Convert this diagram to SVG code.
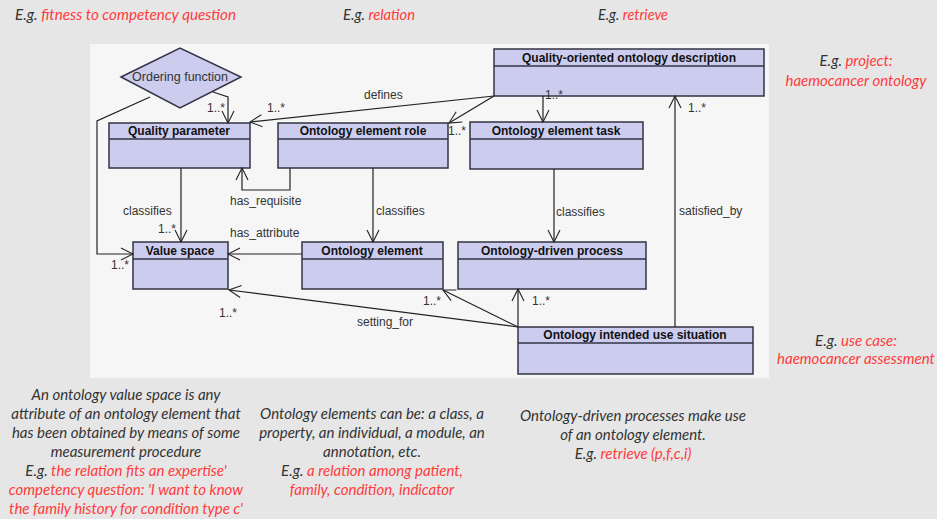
<svg xmlns="http://www.w3.org/2000/svg" width="937" height="519" viewBox="0 0 937 519">
<defs>
<marker id="arr" markerWidth="14" markerHeight="14" viewBox="-13 -7 14 14" refX="0" refY="0" orient="auto" markerUnits="userSpaceOnUse">
<path d="M -12 -6 L 0 0 L -12 6" fill="none" stroke="#222" stroke-width="1.1"/>
</marker>
<style>
.box{fill:#ccccee;stroke:#333344;stroke-width:1.5}
.hd{font-family:"Liberation Sans",Arial,sans-serif;font-weight:bold;font-size:12px;fill:#111;text-anchor:middle}
.lbl{font-family:"Liberation Sans",Arial,sans-serif;font-size:12px;fill:#333}
.ln{fill:none;stroke:#222;stroke-width:1.2}
.arr{marker-end:url(#arr)}
.note{font-family:Lato,"Open Sans",sans-serif;font-style:italic;font-size:15px;fill:#333;text-anchor:middle}
.red{fill:#ff3b3b}
.top{font-family:Lato,"Open Sans",sans-serif;font-style:italic;font-size:15px;fill:#333}
</style>
</defs>
<rect x="0" y="0" width="937" height="519" fill="#e6e6e6"/>
<rect x="90" y="44" width="679" height="334" fill="#f6f6f6"/>

<g id="ordering-function">
<polygon class="box" points="121,77 180,48 241,77 180,108"/>
<text class="lbl" x="180" y="81" text-anchor="middle" style="font-size:12.5px">Ordering function</text>
</g>
<g id="quality-oriented-ontology-description">
<rect class="box" x="494" y="49" width="270" height="47"/>
<line class="box" x1="494" y1="66" x2="764" y2="66"/>
<text class="hd" x="629" y="62">Quality-oriented ontology description</text>
</g>
<g id="quality-parameter">
<rect class="box" x="109" y="123" width="141" height="45"/>
<line class="box" x1="109" y1="139" x2="250" y2="139"/>
<text class="hd" x="179" y="135">Quality parameter</text>
</g>
<g id="ontology-element-role">
<rect class="box" x="278" y="123" width="170" height="45"/>
<line class="box" x1="278" y1="139" x2="448" y2="139"/>
<text class="hd" x="363" y="135">Ontology element role</text>
</g>
<g id="ontology-element-task">
<rect class="box" x="470" y="122" width="173" height="47"/>
<line class="box" x1="470" y1="139" x2="643" y2="139"/>
<text class="hd" x="556" y="135">Ontology element task</text>
</g>
<g id="value-space">
<rect class="box" x="133" y="242" width="95" height="47"/>
<line class="box" x1="133" y1="259" x2="228" y2="259"/>
<text class="hd" x="180" y="255">Value space</text>
</g>
<g id="ontology-element">
<rect class="box" x="302" y="242" width="141" height="47"/>
<line class="box" x1="302" y1="259" x2="443" y2="259"/>
<text class="hd" x="372" y="255">Ontology element</text>
</g>
<g id="ontology-driven-process">
<rect class="box" x="458" y="242" width="188" height="47"/>
<line class="box" x1="458" y1="259" x2="646" y2="259"/>
<text class="hd" x="552" y="255">Ontology-driven process</text>
</g>
<g id="ontology-intended-use-situation">
<rect class="box" x="518" y="327" width="235" height="47"/>
<line class="box" x1="518" y1="343" x2="753" y2="343"/>
<text class="hd" x="635" y="339">Ontology intended use situation</text>
</g>

<g id="connectors">
<path class="ln arr" d="M 213 92 L 228 97 L 228 123"/>
<path class="ln arr" d="M 150 97 L 97 121 L 97 254 L 133 254"/>
<path class="ln arr" d="M 494 96 L 250 122"/>
<path class="ln arr" d="M 494 96 L 449 123"/>
<path class="ln arr" d="M 543 96 L 543 122"/>
<path class="ln arr" d="M 290 168 L 290 190 L 242 190 L 242 168"/>
<path class="ln arr" d="M 181 168 L 181 242"/>
<path class="ln arr" d="M 373 168 L 373 242"/>
<path class="ln arr" d="M 554 169 L 554 242"/>
<path class="ln arr" d="M 302 254 L 228 254"/>
<path class="ln arr" d="M 675 327 L 675 96"/>
<path class="ln arr" d="M 518 327 L 518 289"/>
<path class="ln arr" d="M 518 327 L 443 290"/>
<path class="ln arr" d="M 518 327 L 229 290"/>
<text class="lbl" x="364" y="99">defines</text>
<text class="lbl" x="230" y="205">has_requisite</text>
<text class="lbl" x="123" y="215">classifies</text>
<text class="lbl" x="376" y="215">classifies</text>
<text class="lbl" x="556" y="216">classifies</text>
<text class="lbl" x="230" y="237">has_attribute</text>
<text class="lbl" x="679" y="215">satisfied_by</text>
<text class="lbl" x="357" y="326">setting_for</text>
<text class="lbl" x="207" y="112">1..*</text>
<text class="lbl" x="267" y="112">1..*</text>
<text class="lbl" x="448" y="135">1..*</text>
<text class="lbl" x="545" y="99">1..*</text>
<text class="lbl" x="688" y="112">1..*</text>
<text class="lbl" x="158" y="233">1..*</text>
<text class="lbl" x="111" y="269">1..*</text>
<text class="lbl" x="219" y="317">1..*</text>
<text class="lbl" x="423" y="305">1..*</text>
<text class="lbl" x="532" y="305">1..*</text>
</g>

<g id="annotations">
<text class="top" x="15" y="20" textLength="221" lengthAdjust="spacingAndGlyphs">E.g. <tspan class="red">fitness to competency question</tspan></text>
<text class="top" x="343" y="20" textLength="72" lengthAdjust="spacingAndGlyphs">E.g. <tspan class="red">relation</tspan></text>
<text class="top" x="598" y="20" textLength="70" lengthAdjust="spacingAndGlyphs">E.g. <tspan class="red">retrieve</tspan></text>
<text class="note" x="856" y="66">E.g. <tspan class="red">project:</tspan></text>
<text class="note red" x="856" y="86">haemocancer ontology</text>
<text class="note" x="856" y="346">E.g. <tspan class="red">use case:</tspan></text>
<text class="note red" x="856" y="364">haemocancer assessment</text>
<text class="note" x="126" y="400">An ontology value space is any</text>
<text class="note" x="126" y="419">attribute of an ontology element that</text>
<text class="note" x="126" y="438">has been obtained by means of some</text>
<text class="note" x="126" y="457">measurement procedure</text>
<text class="note" x="126" y="476">E.g. <tspan class="red">the relation fits an expertise'</tspan></text>
<text class="note red" x="126" y="495">competency question: 'I want to know</text>
<text class="note red" x="126" y="514">the family history for condition type c'</text>
<text class="note" x="372" y="419">Ontology elements can be: a class, a</text>
<text class="note" x="372" y="438">property, an individual, a module, an</text>
<text class="note" x="372" y="457">annotation, etc.</text>
<text class="note" x="372" y="476">E.g. <tspan class="red">a relation among patient,</tspan></text>
<text class="note red" x="372" y="495">family, condition, indicator</text>
<text class="note" x="633" y="421">Ontology-driven processes make use</text>
<text class="note" x="633" y="440">of an ontology element.</text>
<text class="note" x="633" y="459">E.g. <tspan class="red">retrieve (p,f,c,i)</tspan></text>
</g>
</svg>
